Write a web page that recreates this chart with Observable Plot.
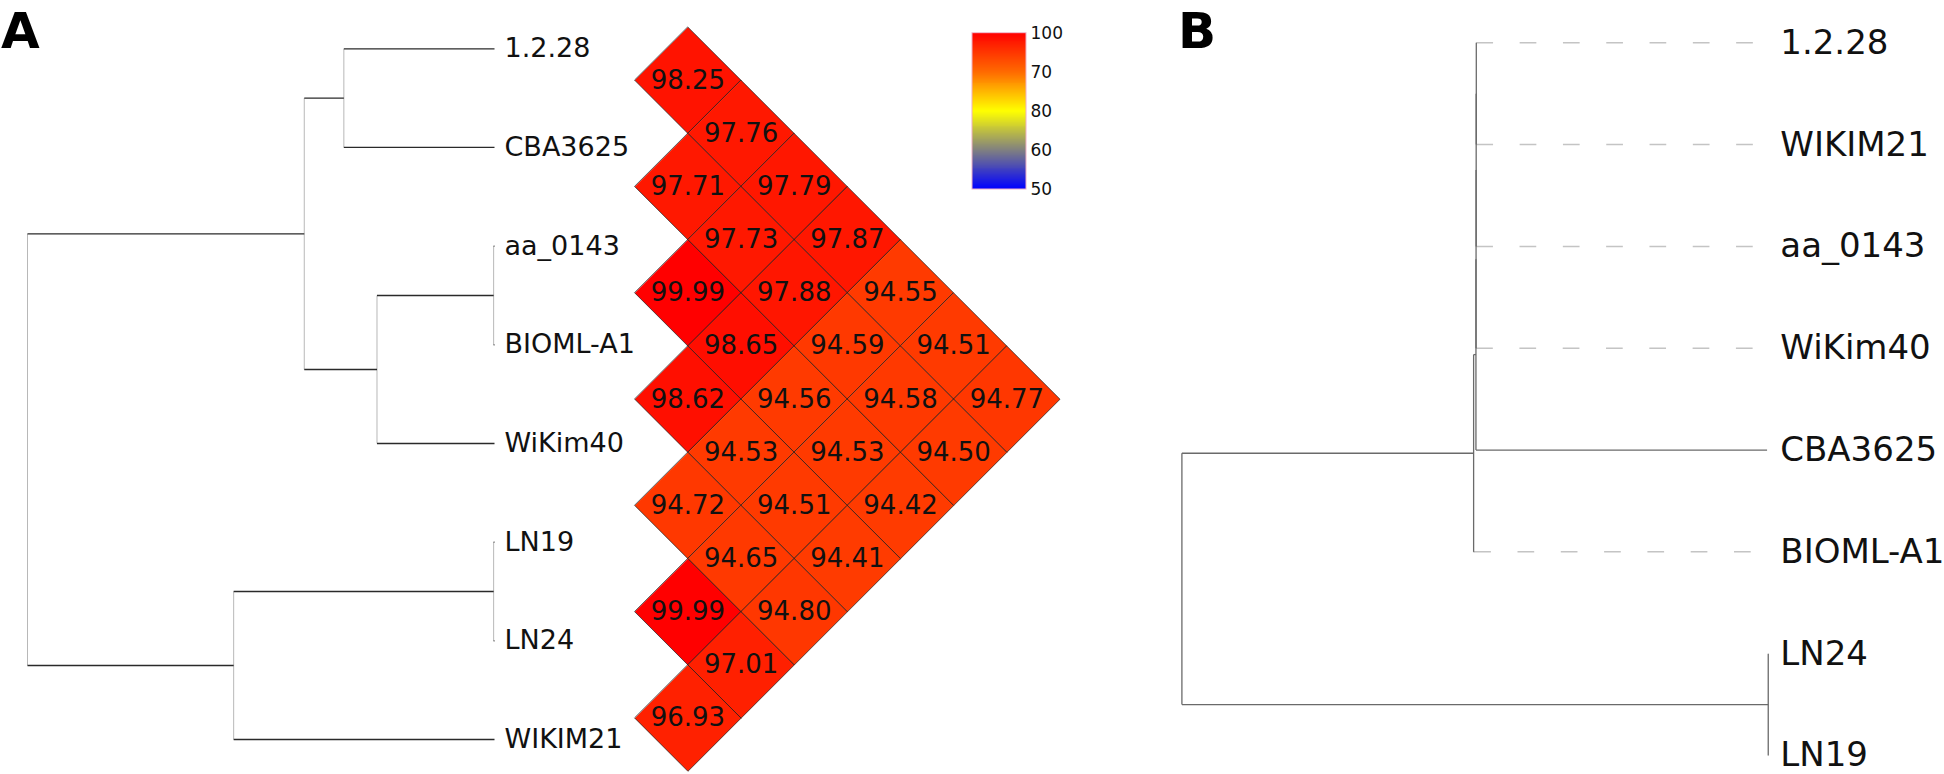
<!DOCTYPE html>
<html>
<head>
<meta charset="utf-8">
<script src="https://cdn.jsdelivr.net/npm/d3@7"></script>
<script src="https://cdn.jsdelivr.net/npm/@observablehq/plot@0.6"></script>
<style>
html, body { margin: 0; padding: 0; background: #fff; }
#fig { position: relative; width: 1944px; height: 774px; overflow: hidden; background: #fff; }
#fig svg { position: absolute; left: 0; top: 0; background: transparent !important; max-width: none !important; }
.panel { position: absolute; top: 1px; font-family: "DejaVu Sans", sans-serif; font-weight: bold; font-size: 50px; line-height: 60px; color: #000; }
</style>
</head>
<body>
<div id="fig">
  <div class="panel" style="left:1px">A</div>
  <div class="panel" style="left:1178px">B</div>
</div>
<script>
// ---------- Panel A: ANI dendrogram (UPGMA on 100 - ANI) ----------
const leavesA = ["1.2.28", "CBA3625", "aa_0143", "BIOML-A1", "WiKim40", "LN19", "LN24", "WIKIM21"];
const dendroNodes = ["n1", "n2", "n3", "n4", "n5", "n6", "root"];
const dendroChildren = [
  ["1.2.28", "CBA3625"], ["aa_0143", "BIOML-A1"], ["n2", "WiKim40"], ["n1", "n3"],
  ["LN19", "LN24"], ["n5", "WIKIM21"], ["n4", "n6"]
];
const dendroHeights = [1.75, 0.01, 1.365, 2.21, 0.01, 3.03, 5.425];

// ---------- Panel A: ANI values (upper triangle, rows in leavesA order) ----------
const aniRow0 = [98.25, 97.76, 97.79, 97.87, 94.55, 94.51, 94.77];
const aniRow1 = [97.71, 97.73, 97.88, 94.59, 94.58, 94.50];
const aniRow2 = [99.99, 98.65, 94.56, 94.53, 94.42];
const aniRow3 = [98.62, 94.53, 94.51, 94.41];
const aniRow4 = [94.72, 94.65, 94.80];
const aniRow5 = [99.99, 97.01];
const aniRow6 = [96.93];
const aniRows = [aniRow0, aniRow1, aniRow2, aniRow3, aniRow4, aniRow5, aniRow6];

// ---------- colour scale and legend ----------
const colorStops = [50, 60, 80, 90, 100];
const colorRange = ["#0000ff", "#808080", "#ffff00", "#ff6a00", "#ff0000"];
const legendLabels = ["100", "70", "80", "60", "50"];
const legendPos = [0, 0.25, 0.5, 0.75, 1];
const legendValues = [100, 90, 80, 60, 50];

// ---------- Panel B: phylogenetic tree ----------
const leavesB = ["1.2.28", "WIKIM21", "aa_0143", "WiKim40", "CBA3625", "BIOML-A1", "LN24", "LN19"];
const treeBNodes = ["b1", "b2", "b3", "b4", "b5", "b6", "root"];
const treeBChildren = [
  ["1.2.28", "WIKIM21"], ["b1", "aa_0143"], ["b2", "WiKim40"], ["b3", "CBA3625"],
  ["b4", "BIOML-A1"], ["LN24", "LN19"], ["b5", "b6"]
];
const treeBEdgeChild = ["b5", "b4", "b3", "b2", "b1", "1.2.28", "WIKIM21", "aa_0143", "WiKim40", "CBA3625", "BIOML-A1", "b6", "LN24", "LN19"];
const treeBEdgeLength = [0.0050, 0.00004, 0.000002, 0.000002, 0.000002, 0.000001, 0.000001, 0.000001, 0.000001, 0.00499, 0.00001, 0.01005, 0.000001, 0.000001];

const fig = document.getElementById("fig");
const baseStyle = {background: "transparent", fontFamily: "DejaVu Sans, sans-serif"};

// ===== Panel A dendrogram =====
{
  const h = new Map(leavesA.map(l => [l, 0]));
  const y = new Map(leavesA.map((l, i) => [l, i]));
  dendroNodes.forEach((n, k) => {
    h.set(n, dendroHeights[k]);
    const [a, b] = dendroChildren[k];
    y.set(n, (y.get(a) + y.get(b)) / 2);
  });
  const horiz = [], vert = [];
  dendroNodes.forEach((n, k) => {
    const [a, b] = dendroChildren[k];
    vert.push({x1: h.get(n), x2: h.get(n), y1: y.get(a), y2: y.get(b)});
    for (const c of [a, b]) horiz.push({x1: h.get(n), x2: h.get(c), y1: y.get(c), y2: y.get(c)});
  });
  const maxH = d3.max(dendroHeights);
  const plotA = Plot.plot({
    width: 1944, height: 774, margin: 0,
    style: baseStyle,
    x: {type: "linear", domain: [maxH, 0], range: [27, 494], axis: null},
    y: {type: "linear", domain: [0, leavesA.length - 1], range: [48.3, 739], axis: null},
    marks: [
      Plot.link(vert, {x1: "x1", x2: "x2", y1: "y1", y2: "y2", stroke: "#b8b8b8", strokeWidth: 1}),
      Plot.link(horiz, {x1: "x1", x2: "x2", y1: "y1", y2: "y2", stroke: "#2a2a2a", strokeWidth: 1.3}),
      Plot.text(leavesA, {x: 0, y: (d, i) => i, text: d => d, textAnchor: "start", dx: 10, fontSize: 27, fill: "#111", fontFamily: "DejaVu Sans"})
    ]
  });
  fig.appendChild(plotA);
}

// ===== Panel A heatmap (diamond cells) =====
{
  const cells = [];
  aniRows.forEach((row, i) => row.forEach((value, k) => {
    const j = i + k + 1;
    cells.push({id: `${i}-${j}`, u: (i + j) / 2, v: j - i, value});
  }));
  const verts = cells.flatMap(c => [[c.v, c.u - 0.5], [c.v + 1, c.u], [c.v, c.u + 0.5], [c.v - 1, c.u]]
    .map(([vx, uy]) => ({id: c.id, vx, uy, value: c.value})));
  const plotH = Plot.plot({
    width: 1944, height: 774, margin: 0,
    style: baseStyle,
    x: {type: "linear", domain: [0, leavesA.length], range: [634.3, 1059.5], axis: null},
    y: {type: "linear", domain: [0, leavesA.length - 1], range: [26.7, 770.8], axis: null},
    color: {type: "linear", domain: colorStops, range: colorRange},
    marks: [
      Plot.line(verts, {x: "vx", y: "uy", z: "id", fill: "value", stroke: "#1a1a1a", strokeWidth: 0.7, curve: "linear-closed"}),
      Plot.text(cells, {x: "v", y: "u", text: d => d.value.toFixed(2), fontSize: 26, fill: "#111", fontFamily: "DejaVu Sans"})
    ]
  });
  fig.appendChild(plotH);
}

// ===== Colour legend =====
{
  const posToValue = d3.scaleLinear(legendPos, legendValues);
  const n = 160;
  const slices = d3.range(n).map(k => ({p0: k / n, p1: (k + 1) / n, value: posToValue((k + 0.5) / n)}));
  const plotL = Plot.plot({
    width: 1944, height: 774, margin: 0,
    style: baseStyle,
    x: {type: "linear", domain: [0, 1], range: [972, 1026], axis: null},
    y: {type: "linear", domain: [0, 1], range: [32.7, 189], axis: null},
    color: {type: "linear", domain: colorStops, range: colorRange},
    marks: [
      Plot.rect(slices, {x1: 0, x2: 1, y1: "p0", y2: "p1", fill: "value", inset: 0, shapeRendering: "crispEdges"}),
      Plot.rect([{}], {x1: 0, x2: 1, y1: 0, y2: 1, fill: "none", stroke: "#efb0c4", strokeWidth: 1}),
      Plot.text(legendLabels, {x: 1, y: (d, i) => legendPos[i], text: d => d, textAnchor: "start", dx: 4, fontSize: 17, fill: "#111", fontFamily: "DejaVu Sans"})
    ]
  });
  fig.appendChild(plotL);
}

// ===== Panel B tree =====
{
  const parent = new Map();
  treeBNodes.forEach((n, k) => treeBChildren[k].forEach(c => parent.set(c, n)));
  const len = new Map(treeBEdgeChild.map((c, k) => [c, treeBEdgeLength[k]]));
  const depth = new Map();
  const depthOf = n => {
    if (depth.has(n)) return depth.get(n);
    const p = parent.get(n);
    const d = p === undefined ? 0 : depthOf(p) + len.get(n);
    depth.set(n, d);
    return d;
  };
  const y = new Map(leavesB.map((l, i) => [l, i]));
  treeBNodes.forEach((n, k) => {
    const [a, b] = treeBChildren[k];
    y.set(n, (y.get(a) + y.get(b)) / 2);
  });
  [...leavesB, ...treeBNodes].forEach(depthOf);
  const maxD = d3.max(leavesB, l => depth.get(l));
  const segs = [];
  treeBNodes.forEach((n, k) => {
    const [a, b] = treeBChildren[k];
    segs.push({x1: depth.get(n), x2: depth.get(n), y1: y.get(a), y2: y.get(b)});
    for (const c of [a, b]) segs.push({x1: depth.get(n), x2: depth.get(c), y1: y.get(c), y2: y.get(c)});
  });
  const dashed = leavesB.filter(l => depth.get(l) < 0.9 * maxD)
    .map(l => ({x1: depth.get(l), x2: maxD, y1: y.get(l), y2: y.get(l)}));
  const plotB = Plot.plot({
    width: 1944, height: 774, margin: 0,
    style: baseStyle,
    x: {type: "linear", domain: [0, maxD], range: [1181.4, 1767.8], axis: null},
    y: {type: "linear", domain: [0, leavesB.length - 1], range: [42.3, 755], axis: null},
    marks: [
      Plot.link(dashed, {x1: "x1", x2: "x2", y1: "y1", y2: "y2", stroke: "#c4c4c4", strokeWidth: 1.5, strokeDasharray: "16.7,26.6"}),
      Plot.link(segs, {x1: "x1", x2: "x2", y1: "y1", y2: "y2", stroke: "#6a6a6a", strokeWidth: 1.3}),
      Plot.text(leavesB, {x: maxD, y: (d, i) => i, text: d => d, textAnchor: "start", dx: 12, fontSize: 34, fill: "#111", fontFamily: "DejaVu Sans"})
    ]
  });
  fig.appendChild(plotB);
}
</script>
</body>
</html>
